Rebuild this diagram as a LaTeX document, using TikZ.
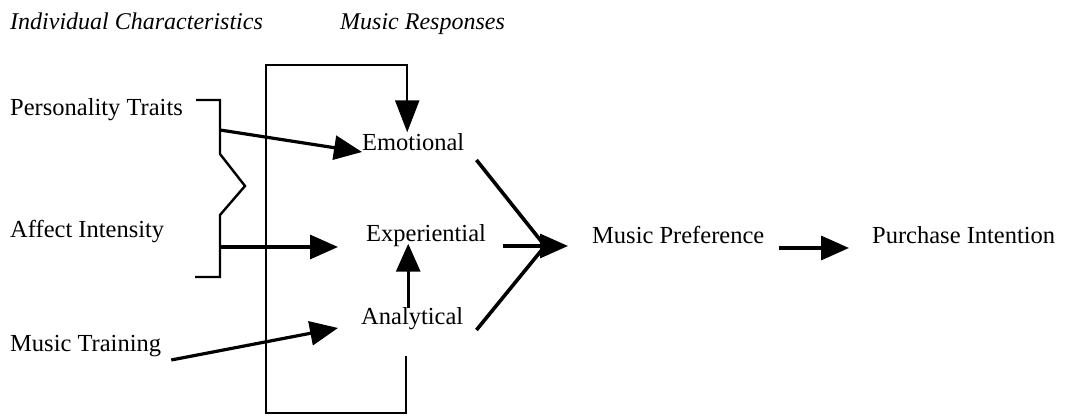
\documentclass[tikz,border=0pt]{standalone}
\usepackage{fontspec}
\setmainfont{Liberation Serif}
\usetikzlibrary{arrows.meta, calc, positioning}

\tikzset{
	lbl/.style={anchor=west, inner sep=0pt, font=\fontsize{24.5}{28}\selectfont,
		text height=0.68em, text depth=0.22em},
	head/.style={lbl, font=\fontsize{24}{28}\selectfont\itshape},
	arr/.style={line width=3.2pt, -{Triangle[length=28pt,width=24pt]}},
	feed/.style={line width=3.6pt},
	frame/.style={line width=2.4pt},
	fbline/.style={frame, -{Triangle[length=32pt,width=24pt]}},
}

\begin{document}
\begin{tikzpicture}[x=1pt, y=1pt]
	\useasboundingbox (0,0) rectangle (1066,419);
	% column headings
	\node[head] (indiv) at (10,392) {Individual Characteristics};
	\node[head] (resp) at (340,392) {Music Responses};
	% individual characteristics
	\foreach \nm/\y/\lab in {pers/306/Personality Traits,
		affect/184/Affect Intensity, train/70/Music Training}{
		\node[lbl] (\nm) at (10,\y) {\lab};
	}
	% music responses and outcomes
	\node[lbl] (emo) at (362,271) {Emotional};
	\node[lbl] (exper) at (366,180) {Experiential};
	\node[lbl] (anal) at (361,97) {Analytical};
	\node[lbl] (pref) at (592,178) {Music Preference};
	\node[lbl] (purch) at (872,178) {Purchase Intention};

	% bracket joining traits and intensity
	\coordinate (b0) at (196,319);
	\coordinate (b1) at (220,319);
	\coordinate (b2) at (220,265);
	\coordinate (b3) at (245,233);
	\coordinate (b4) at (220,204);
	\coordinate (b5) at (220,142);
	\coordinate (b6) at (195,142);
	\draw[frame] (b0) -- (b1) -- (b2) -- (b3) -- (b4) -- (b5) -- (b6);
	\coordinate (ptout) at (220,289);
	\coordinate (aiout) at (220,172);

	% inputs to responses
	\draw[arr] (ptout) -- ([yshift=-4pt]emo.west);
	\draw[arr] (aiout) -- ($(exper.west)+(-28,-8)$);
	\draw[arr] ([shift={(10,-11)}]train.east) -- ($(anal.west)+(-23,-6)$);
	\draw[arr] ([shift={(-4,9)}]anal.north) -- ([xshift=-4pt]anal.north |- exper.south);

	% feedback loop round the responses
	\coordinate (loopbl) at (266,6);
	\coordinate (looptl) at (266,354);
	\draw[fbline] ([shift={(-6,-29)}]anal.south) |- (loopbl) -- (looptl)
		-| ([shift={(-6,11)}]emo.north);

	% responses to preference
	\coordinate (join) at (545,173);
	\draw[feed] ([shift={(12,-12)}]emo.east) -- (join);
	\draw[feed] ([shift={(13,-8)}]anal.east) -- (join);
	\draw[arr] ([shift={(17,-7)}]exper.east) -- ([shift={(-24,-5)}]pref.west);
	\draw[arr] ([shift={(14,-7)}]pref.east) -- ([shift={(-23,-7)}]purch.west);
\end{tikzpicture}
\end{document}
